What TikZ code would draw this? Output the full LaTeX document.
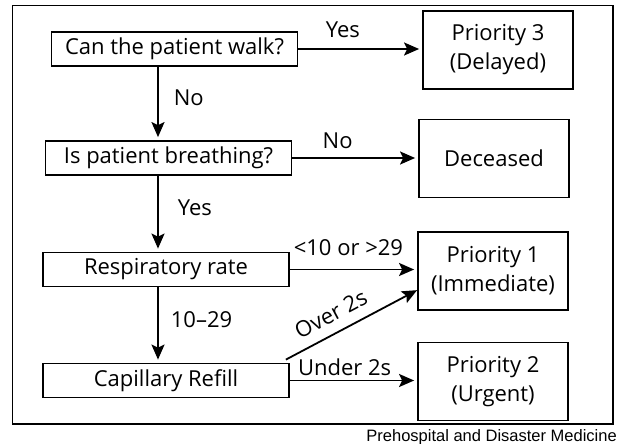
\documentclass[tikz,border=0pt]{standalone}
\usepackage{fontspec}
\setmainfont{Open Sans}
\newfontfamily\capfont{Liberation Sans}
\usetikzlibrary{arrows.meta,calc}
\begin{document}
\begin{tikzpicture}[x=1pt,y=-1pt,
	txt/.style={font=\fontsize{22}{29}\selectfont},
	question/.style={txt,draw,line width=1.8pt,minimum width=246pt,minimum height=34pt,inner sep=0pt},
	priority/.style={txt,draw,line width=1.8pt,minimum width=150pt,minimum height=78pt,inner sep=0pt,align=center},
	arr/.style={line width=1.8pt,-{Stealth[length=15pt,width=13pt,inset=3pt]},shorten >=3pt},
	lbl/.style={txt,inner sep=0pt}]
	\useasboundingbox (0,0) rectangle (619,444);
	\draw[line width=1.5pt] (12.5,5.5) rectangle (613,424);
	\node[question] (walk) at (174.5,49) {Can the patient walk?};
	\node[question] (breath) at (168.5,158) {Is patient breathing?};
	\node[question] (resp) at (166,269.5) {Respiratory rate};
	\node[question] (cap) at (166,380.5) {Capillary Refill};
	\node[priority] (p3) at (498,50) {Priority 3\\(Delayed)};
	\node[priority] (dead) at (494,158.5) {Deceased};
	\node[priority] (p1) at (493,271) {Priority 1\\(Immediate)};
	\node[priority] (p2) at (493,381.5) {Priority 2\\(Urgent)};
	\coordinate (vx) at (158,0);
	\draw[arr] (walk.east) -- (walk.east -| p3.west) node[lbl,pos=0.36,above=10pt]{Yes};
	\draw[arr] (breath.east) -- (breath.east -| dead.west) node[lbl,pos=0.36,above=8pt]{No};
	\draw[arr] (resp.east) -- (resp.east -| p1.west) node[lbl,pos=0.46,above=13pt]{<10 or >29};
	\draw[arr] (cap.east) -- (cap.east -| p2.west) node[lbl,pos=0.43,above=4pt]{Under 2s};
	\draw[arr,shorten >=0pt] ($(cap.north east)+(-4,-3)$) -- ($(p1.south west)!0.26!(p1.north west)$) node[lbl,pos=0.41,sloped,above=10pt]{Over 2s};
	\draw[arr] (walk.south -| vx) -- (breath.north -| vx) node[lbl,pos=0.42,right=15pt]{No};
	\draw[arr] (breath.south -| vx) -- (resp.north -| vx) node[lbl,pos=0.42,right=19pt]{Yes};
	\draw[arr] (resp.south -| vx) -- (cap.north -| vx) node[lbl,pos=0.43,right=12pt]{10--29};
	\node[anchor=east,inner sep=0pt,font=\capfont\fontsize{16.5}{18}\selectfont] (src) at (617,437) {Prehospital and Disaster Medicine};
\end{tikzpicture}
\end{document}
